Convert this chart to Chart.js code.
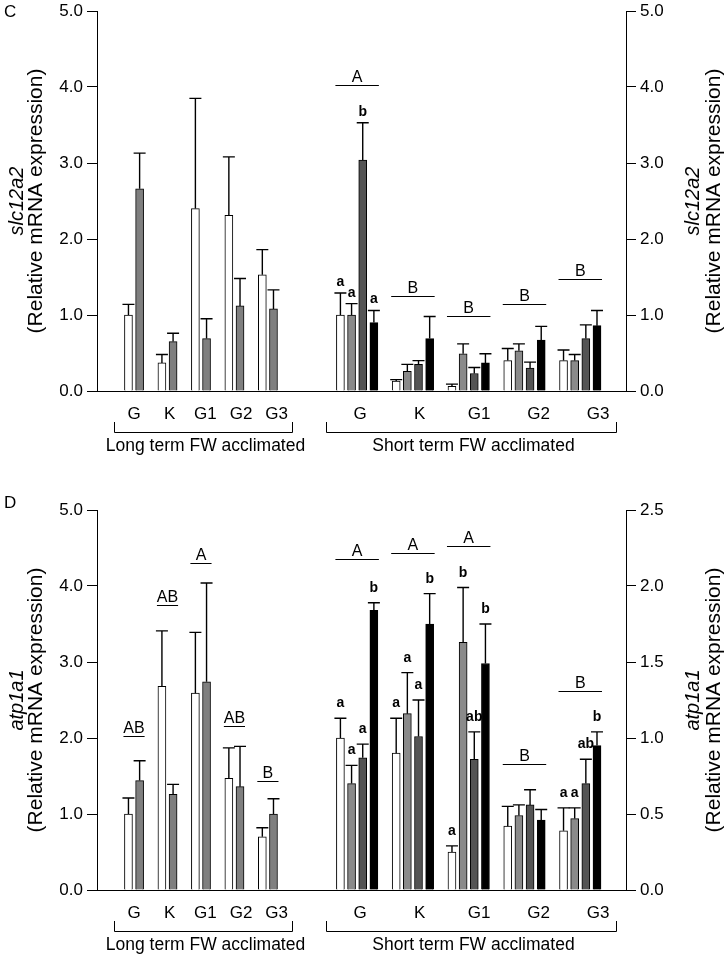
<!DOCTYPE html>
<html>
<head>
<meta charset="utf-8">
<script src="https://cdn.jsdelivr.net/npm/chart.js@4.4.0/dist/chart.umd.min.js"></script>
<style>
  body { margin: 0; background: #fff; }
  canvas { display: block; }
</style>
</head>
<body>
<canvas id="panelC" width="727" height="477"></canvas>
<canvas id="panelD" width="727" height="477"></canvas>
<script>
// tissues (same order in both panels)
var regions = ["G", "K", "G1", "G2", "G3"];

// ---- panel C : slc12a2 ----
var cLong1 = [1.00, 0.37, 2.40, 2.31, 1.53];
var cLong1Err = [0.14, 0.11, 1.45, 0.77, 0.33];
var cLong2 = [2.66, 0.65, 0.69, 1.12, 1.08];
var cLong2Err = [0.47, 0.11, 0.26, 0.36, 0.25];

var cShort1 = [1.00, 0.13, 0.06, 0.40, 0.40];
var cShort1Err = [0.29, 0.02, 0.03, 0.16, 0.14];
var cShort2 = [1.00, 0.26, 0.49, 0.53, 0.40];
var cShort2Err = [0.15, 0.09, 0.13, 0.09, 0.08];
var cShort3 = [3.04, 0.35, 0.23, 0.30, 0.69];
var cShort3Err = [0.49, 0.05, 0.08, 0.08, 0.18];
var cShort4 = [0.90, 0.69, 0.37, 0.67, 0.86];
var cShort4Err = [0.16, 0.29, 0.12, 0.18, 0.20];

var cShort1Letters = ["a", "", "", "", ""];
var cShort2Letters = ["a", "", "", "", ""];
var cShort3Letters = ["b", "", "", "", ""];
var cShort4Letters = ["a", "", "", "", ""];

var cLongGroupLetters = ["", "", "", "", ""];
var cLongGroupLevel = [0, 0, 0, 0, 0];
var cShortGroupLetters = ["A", "B", "B", "B", "B"];
var cShortGroupLevel = [4.03, 1.25, 0.99, 1.14, 1.47];

// ---- panel D : atp1a1 ----
var dLong1 = [1.00, 2.68, 2.59, 1.47, 0.70];
var dLong1Err = [0.21, 0.73, 0.80, 0.40, 0.12];
var dLong2 = [1.44, 1.26, 2.74, 1.36, 1.00];
var dLong2Err = [0.26, 0.13, 1.30, 0.53, 0.20];

var dShort1 = [1.00, 0.90, 0.25, 0.42, 0.39];
var dShort1Err = [0.13, 0.23, 0.04, 0.13, 0.15];
var dShort2 = [0.70, 1.16, 1.63, 0.49, 0.47];
var dShort2Err = [0.12, 0.27, 0.36, 0.07, 0.07];
var dShort3 = [0.87, 1.01, 0.86, 0.56, 0.70];
var dShort3Err = [0.09, 0.24, 0.18, 0.10, 0.16];
var dShort4 = [1.84, 1.75, 1.49, 0.46, 0.95];
var dShort4Err = [0.05, 0.20, 0.26, 0.07, 0.09];

var dShort1Letters = ["a", "a", "a", "", "a"];
var dShort2Letters = ["a", "a", "b", "", "a"];
var dShort3Letters = ["a", "a", "ab", "", "ab"];
var dShort4Letters = ["b", "b", "b", "", "b"];

var dLongGroupLetters = ["AB", "AB", "A", "AB", "B"];
var dLongGroupLevel = [2.02, 3.75, 4.30, 2.16, 1.44];
var dShortGroupLetters = ["A", "A", "A", "B", "B"];
var dShortGroupLevel = [2.18, 2.22, 2.26, 0.83, 1.31];

// ---- layout ----
var FONT = '"Liberation Sans", Arial, Helvetica, sans-serif';
Chart.defaults.font.family = FONT;
Chart.defaults.color = "#000";

// bars sit on "slots": long term groups use 3 slots, short term groups 5
function longSlot(g, b) { return g * 3 + b; }
function shortSlot(g, b) { return 19 + g * 5 + b; }
var SLOT_PX = 11.155;

var tickSlots = [], tickNames = [];
regions.forEach(function (r, g) {
  tickSlots.push(longSlot(g, 0.5) + g * 2.2 / SLOT_PX);
  tickNames.push(r);
});
regions.forEach(function (r, g) {
  tickSlots.push(shortSlot(g, 1.5) + (3 + g * 3.7) / SLOT_PX);
  tickNames.push(r);
});

function points(values, slotFn, b) {
  return values.map(function (v, g) { return { x: slotFn(g, b), y: v }; });
}

function barSet(values, errs, letters, slotFn, b, color, axis) {
  return {
    data: points(values, slotFn, b),
    err: errs,
    letters: letters,
    backgroundColor: color,
    borderColor: "#000",
    borderWidth: 1,
    barThickness: 8,
    grouped: false,
    yAxisID: axis
  };
}

var decor = {
  id: "decor",
  afterDatasetsDraw: function (chart, args, o) {
    var ctx = chart.ctx;
    ctx.save();
    ctx.strokeStyle = "#000";
    ctx.fillStyle = "#000";
    // error bars + letters
    chart.data.datasets.forEach(function (ds, i) {
      var meta = chart.getDatasetMeta(i);
      var ys = chart.scales[ds.yAxisID];
      meta.data.forEach(function (bar, j) {
        var top = ys.getPixelForValue(ds.data[j].y + ds.err[j]);
        ctx.lineWidth = 1.4;
        ctx.beginPath();
        ctx.moveTo(bar.x, bar.y);
        ctx.lineTo(bar.x, top);
        ctx.moveTo(bar.x - 6, top);
        ctx.lineTo(bar.x + 6, top);
        ctx.stroke();
        if (ds.letters && ds.letters[j]) {
          ctx.font = "bold 14px " + FONT;
          ctx.textAlign = "center";
          ctx.textBaseline = "alphabetic";
          ctx.fillText(ds.letters[j], bar.x, top - o.letterGap);
        }
      });
    });
    // group letters with a line under them
    o.groups.forEach(function (gr) {
      var ys = chart.scales[gr.axis];
      var first = chart.getDatasetMeta(gr.first).data;
      var last = chart.getDatasetMeta(gr.last).data;
      gr.labels.forEach(function (lab, g) {
        if (!lab) return;
        var x0 = first[g].x - 5, x1 = last[g].x + 5;
        var y = Math.round(ys.getPixelForValue(gr.levels[g])) + 0.5;
        ctx.lineWidth = 1;
        ctx.beginPath();
        ctx.moveTo(x0, y);
        ctx.lineTo(x1, y);
        ctx.stroke();
        ctx.font = "16px " + FONT;
        ctx.textAlign = "center";
        ctx.textBaseline = "alphabetic";
        ctx.fillText(lab, (x0 + x1) / 2, y - 4);
      });
    });
    ctx.restore();
  },
  afterDraw: function (chart, args, o) {
    var ctx = chart.ctx, area = chart.chartArea, xs = chart.scales.x;
    ctx.save();
    ctx.fillStyle = "#000";
    ctx.strokeStyle = "#000";
    // panel letter
    ctx.font = "17px " + FONT;
    ctx.textAlign = "left";
    ctx.textBaseline = "alphabetic";
    ctx.fillText(o.panel, 4, o.panelY);
    // axis titles, two lines, reading upward
    var midY = (area.top + area.bottom) / 2;
    [[17, 36], [693, 714]].forEach(function (xx) {
      ctx.save();
      ctx.translate(xx[0], midY);
      ctx.rotate(-Math.PI / 2);
      ctx.textAlign = "center";
      ctx.textBaseline = "middle";
      ctx.font = "italic 20px " + FONT;
      ctx.fillText(o.gene, 0, 0);
      ctx.restore();
      ctx.save();
      ctx.translate(xx[1], midY);
      ctx.rotate(-Math.PI / 2);
      ctx.textAlign = "center";
      ctx.textBaseline = "middle";
      ctx.font = "21px " + FONT;
      ctx.fillText("(Relative mRNA expression)", 0, 0);
      ctx.restore();
    });
    // brackets under the groups
    o.brackets.forEach(function (br) {
      var x0 = Math.round(xs.getPixelForValue(br.from)) - 13.5;
      var x1 = Math.round(xs.getPixelForValue(br.to)) + 19.5;
      var yt = area.bottom + 31, yl = area.bottom + 41.5;
      ctx.lineWidth = 1;
      ctx.beginPath();
      ctx.moveTo(x0, yt);
      ctx.lineTo(x0, yl);
      ctx.lineTo(x1, yl);
      ctx.lineTo(x1, yt);
      ctx.stroke();
      ctx.font = "17.5px " + FONT;
      ctx.textAlign = "center";
      ctx.textBaseline = "middle";
      ctx.fillText(br.text, (x0 + x1) / 2 + 2, area.bottom + 55);
    });
    ctx.restore();
  }
};

function yAxis(position, max, step, width) {
  return {
    type: "linear",
    position: position,
    min: 0,
    max: max,
    afterFit: function (s) {
      s.width = width;
      s.paddingTop = 0;
      s.paddingBottom = 0;
    },
    ticks: {
      stepSize: step,
      padding: 4,
      font: { size: 17 },
      callback: function (v) { return v.toFixed(1); }
    },
    grid: { drawOnChartArea: false, tickLength: 10, color: "#000", tickWidth: 1 },
    border: { display: true, color: "#000", width: 1 }
  };
}

function makePanel(id, p) {
  var datasets = [
    barSet(p.long1, p.long1Err, null, longSlot, 0, "#ffffff", "y"),
    barSet(p.long2, p.long2Err, null, longSlot, 1, "#7f7f7f", "y"),
    barSet(p.s1, p.s1Err, p.s1L, shortSlot, 0, "#ffffff", "y2"),
    barSet(p.s2, p.s2Err, p.s2L, shortSlot, 1, "#8a8a8a", "y2"),
    barSet(p.s3, p.s3Err, p.s3L, shortSlot, 2, "#545454", "y2"),
    barSet(p.s4, p.s4Err, p.s4L, shortSlot, 3, "#000000", "y2")
  ];
  return new Chart(document.getElementById(id), {
    type: "bar",
    data: { datasets: datasets },
    plugins: [decor],
    options: {
      responsive: false,
      animation: false,
      layout: { padding: { top: p.top, bottom: p.bottom, left: 0, right: 0 } },
      plugins: {
        legend: { display: false },
        tooltip: { enabled: false },
        decor: {
          panel: p.panel,
          panelY: p.panelY,
          gene: p.gene,
          letterGap: p.letterGap,
          groups: [
            { first: 0, last: 1, axis: "y", labels: p.longGroups, levels: p.longLevels },
            { first: 2, last: 5, axis: "y2", labels: p.shortGroups, levels: p.shortLevels }
          ],
          brackets: [
            { from: longSlot(0, 0), to: longSlot(4, 1), text: "Long term FW acclimated" },
            { from: shortSlot(0, 0), to: shortSlot(4, 3), text: "Short term FW acclimated" }
          ]
        }
      },
      scales: {
        x: {
          type: "linear",
          offset: false,
          min: -2.82,
          max: 44.6,
          afterBuildTicks: function (s) {
            s.ticks = tickSlots.map(function (v) { return { value: v }; });
          },
          afterFit: function (s) { s.height = 30; },
          ticks: {
            autoSkip: false,
            maxRotation: 0,
            padding: 13,
            font: { size: 17 },
            callback: function (v, i) { return tickNames[i]; }
          },
          grid: { display: false, drawTicks: false },
          border: { display: true, color: "#000", width: 1 }
        },
        y: yAxis("left", 5, 1, 97),
        y2: yAxis("right", p.rightMax, p.rightStep, 101)
      }
    }
  });
}

makePanel("panelC", {
  panel: "C", panelY: 17, gene: "slc12a2", top: 11, bottom: 56, letterGap: 7,
  rightMax: 5, rightStep: 1,
  long1: cLong1, long1Err: cLong1Err, long2: cLong2, long2Err: cLong2Err,
  s1: cShort1, s1Err: cShort1Err, s1L: cShort1Letters,
  s2: cShort2, s2Err: cShort2Err, s2L: cShort2Letters,
  s3: cShort3, s3Err: cShort3Err, s3L: cShort3Letters,
  s4: cShort4, s4Err: cShort4Err, s4L: cShort4Letters,
  longGroups: cLongGroupLetters, longLevels: cLongGroupLevel,
  shortGroups: cShortGroupLetters, shortLevels: cShortGroupLevel
});

makePanel("panelD", {
  panel: "D", panelY: 31, gene: "atp1a1", top: 33, bottom: 34, letterGap: 11,
  rightMax: 2.5, rightStep: 0.5,
  long1: dLong1, long1Err: dLong1Err, long2: dLong2, long2Err: dLong2Err,
  s1: dShort1, s1Err: dShort1Err, s1L: dShort1Letters,
  s2: dShort2, s2Err: dShort2Err, s2L: dShort2Letters,
  s3: dShort3, s3Err: dShort3Err, s3L: dShort3Letters,
  s4: dShort4, s4Err: dShort4Err, s4L: dShort4Letters,
  longGroups: dLongGroupLetters, longLevels: dLongGroupLevel,
  shortGroups: dShortGroupLetters, shortLevels: dShortGroupLevel
});
</script>
</body>
</html>
